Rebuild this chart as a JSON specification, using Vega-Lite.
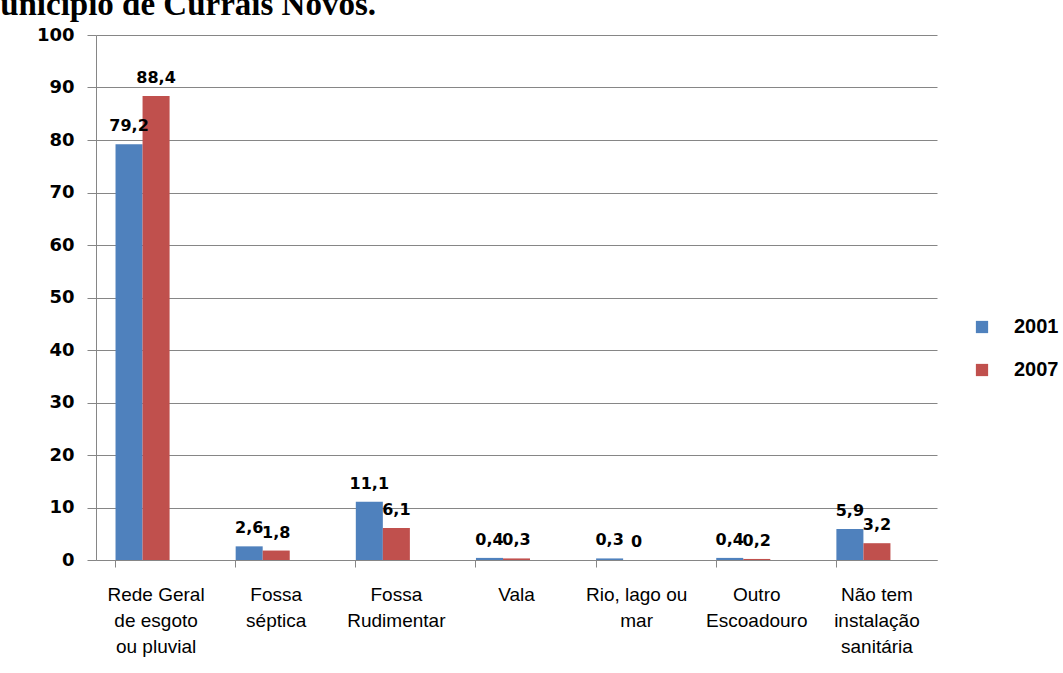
{
  "$schema": "https://vega.github.io/schema/vega-lite/v6.json",
  "width": 841,
  "height": 525,
  "autosize": {"type": "none"},
  "padding": {"left": 96, "top": 35, "right": 126, "bottom": 113},
  "background": "white",
  "title": {
    "text": "Município de Currais Novos.",
    "anchor": "start",
    "frame": "group",
    "font": "Liberation Serif",
    "fontSize": 33,
    "fontWeight": "bold",
    "color": "black",
    "dx": -127,
    "offset": 4
  },
  "data": {
    "values": [
      {"cat": "Rede Geral|de esgoto|ou pluvial", "year": "2001", "value": 79.2, "label": "79,2"},
      {"cat": "Rede Geral|de esgoto|ou pluvial", "year": "2007", "value": 88.4, "label": "88,4"},
      {"cat": "Fossa|séptica", "year": "2001", "value": 2.6, "label": "2,6"},
      {"cat": "Fossa|séptica", "year": "2007", "value": 1.8, "label": "1,8"},
      {"cat": "Fossa|Rudimentar", "year": "2001", "value": 11.1, "label": "11,1"},
      {"cat": "Fossa|Rudimentar", "year": "2007", "value": 6.1, "label": "6,1"},
      {"cat": "Vala", "year": "2001", "value": 0.4, "label": "0,4"},
      {"cat": "Vala", "year": "2007", "value": 0.3, "label": "0,3"},
      {"cat": "Rio, lago ou|mar", "year": "2001", "value": 0.3, "label": "0,3"},
      {"cat": "Rio, lago ou|mar", "year": "2007", "value": 0, "label": "0"},
      {"cat": "Outro|Escoadouro", "year": "2001", "value": 0.4, "label": "0,4"},
      {"cat": "Outro|Escoadouro", "year": "2007", "value": 0.2, "label": "0,2"},
      {"cat": "Não tem|instalação|sanitária", "year": "2001", "value": 5.9, "label": "5,9"},
      {"cat": "Não tem|instalação|sanitária", "year": "2007", "value": 3.2, "label": "3,2"}
    ]
  },
  "encoding": {
    "x": {
      "field": "cat",
      "type": "nominal",
      "sort": null,
      "title": null,
      "scale": {"paddingInner": 0.325, "paddingOuter": 0.1625},
      "axis": {
        "labelExpr": "split(datum.label, '|')",
        "labelAngle": 0,
        "labelFont": "Liberation Sans",
        "labelFontSize": 19,
        "labelColor": "black",
        "labelLineHeight": 26,
        "labelPadding": 18,
        "labelBaseline": "top",
        "bandPosition": 0,
        "tickSize": 7,
        "tickColor": "#868686",
        "domainColor": "#868686",
        "labelLimit": 200,
        "grid": false
      }
    },
    "xOffset": {"field": "year", "type": "nominal", "scale": {"domain": ["2001", "2007", "_"]}},
    "y": {
      "field": "value",
      "type": "quantitative",
      "title": null,
      "scale": {"domain": [0, 100]},
      "axis": {
        "values": [0, 10, 20, 30, 40, 50, 60, 70, 80, 90, 100],
        "labelFont": "DejaVu Sans",
        "labelFontWeight": "bold",
        "labelFontSize": 18,
        "labelColor": "black",
        "labelPadding": 13,
        "tickSize": 9,
        "tickColor": "#868686",
        "domainColor": "#868686",
        "gridColor": "#868686",
        "gridOpacity": 1
      }
    }
  },
  "layer": [
    {
      "mark": {"type": "bar"},
      "encoding": {
        "color": {
          "field": "year",
          "type": "nominal",
          "scale": {"domain": ["2001", "2007"], "range": ["#4F81BD", "#C0504D"]},
          "legend": {
            "title": null,
            "orient": "none",
            "legendX": 876,
            "legendY": 282,
            "symbolType": "square",
            "symbolSize": 150,
            "symbolStrokeWidth": 0,
            "symbolOpacity": 1,
            "labelFont": "Liberation Sans",
            "labelFontWeight": "bold",
            "labelFontSize": 20,
            "labelColor": "black",
            "labelOffset": 22,
            "rowPadding": 23
          }
        }
      }
    },
    {
      "mark": {"type": "text", "font": "DejaVu Sans", "fontWeight": "bold", "fontSize": 16, "baseline": "alphabetic", "dy": -13, "color": "black"},
      "encoding": {"text": {"field": "label"}}
    }
  ],
  "config": {"view": {"stroke": null}}
}
